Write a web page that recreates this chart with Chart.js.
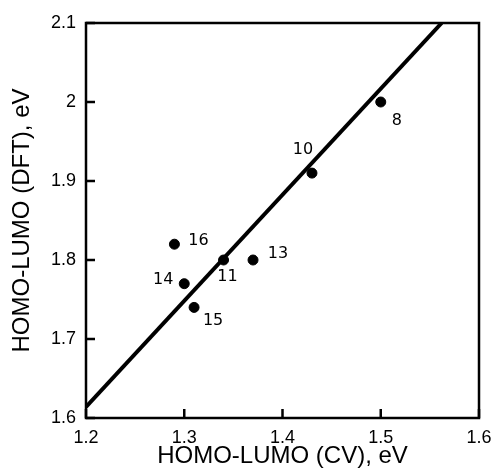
<!DOCTYPE html>
<html>
<head>
<meta charset="utf-8">
<script src="https://cdn.jsdelivr.net/npm/chart.js@4/dist/chart.umd.min.js"></script>
<style>
    html, body { margin:0; padding:0; background:#fff; }
    #wrap { width:493px; height:475px; }
</style>
</head>
<body>
<div id="wrap"><canvas id="chart" width="493" height="475"></canvas></div>
<script>

/*
=================================
DATA
=================================
*/

const compoundLabels = ["8", "10", "16", "11", "13", "14", "15"];
const cvGap  = [1.50, 1.43, 1.29, 1.34, 1.37, 1.30, 1.31];
const dftGap = [2.00, 1.91, 1.82, 1.80, 1.80, 1.77, 1.74];

const fitX = [1.2, 1.562];
const fitY = [1.614, 2.1];

const xTicks = [1.2, 1.3, 1.4, 1.5, 1.6];
const yTicks = [1.6, 1.7, 1.8, 1.9, 2.0, 2.1];

// label offsets (pixels) around each point
const labelOffsets = [
    [16, 19], [-9, -23], [24, -3], [4, 17], [25, -6], [-21, -4], [19, 13]
];

/*
=================================
FRAME + INWARD TICKS + LABELS
=================================
*/

const framePlugin = {
    id: "frame",
    afterDraw(chart){

        const ctx = chart.ctx;
        const area = chart.chartArea;
        const xs = chart.scales.x;
        const ys = chart.scales.y;

        ctx.save();
        ctx.strokeStyle = "#000";
        ctx.lineWidth = 2.5;
        ctx.strokeRect(area.left, area.top, area.right - area.left, area.bottom - area.top);

        ctx.beginPath();
        xTicks.forEach(v => {
            const px = xs.getPixelForValue(v);
            ctx.moveTo(px, area.bottom);
            ctx.lineTo(px, area.bottom - 9);
        });
        yTicks.forEach(v => {
            const py = ys.getPixelForValue(v);
            ctx.moveTo(area.left, py);
            ctx.lineTo(area.left + 9, py);
        });
        ctx.stroke();

        ctx.fillStyle = "#000";
        ctx.font = "16px 'DejaVu Sans'";
        ctx.textAlign = "center";
        ctx.textBaseline = "middle";
        const meta = chart.getDatasetMeta(1);
        meta.data.forEach((pt, i) => {
            ctx.fillText(
                compoundLabels[i],
                pt.x + labelOffsets[i][0],
                pt.y + labelOffsets[i][1]
            );
        });
        ctx.restore();
    }
};

/*
=================================
CHART
=================================
*/

const tickFont = { family: "'Liberation Sans', Arial, sans-serif", size: 18 };
const titleFont = { family: "'Liberation Sans', Arial, sans-serif", size: 24, lineHeight: 1.2 };

new Chart(document.getElementById("chart"), {

    type: "scatter",

    data: {
        datasets: [
            {
                type: "line",
                data: fitX.map((x, i) => ({ x: x, y: fitY[i] })),
                borderColor: "#000",
                borderWidth: 4,
                pointRadius: 0,
                fill: false
            },
            {
                data: cvGap.map((x, i) => ({ x: x, y: dftGap[i] })),
                backgroundColor: "#000",
                borderColor: "#000",
                pointRadius: 5,
                pointHoverRadius: 5
            }
        ]
    },

    options: {
        responsive: false,
        animation: false,
        layout: { padding: { top: 23, right: 14, left: 0, bottom: 0 } },
        plugins: {
            legend: { display: false },
            tooltip: { enabled: false }
        },
        scales: {
            x: {
                type: "linear",
                min: 1.2,
                max: 1.6,
                afterBuildTicks: s => { s.ticks = xTicks.map(v => ({ value: v })); },
                afterFit: s => {
                    s.height = 57;
                    s.paddingLeft = 0;
                    s.paddingRight = 0;
                },
                grid: { display: false, drawTicks: false },
                border: { display: false },
                ticks: {
                    color: "#000",
                    font: tickFont,
                    padding: 9,
                    maxRotation: 0,
                    callback: v => String(Number(v.toFixed(1)))
                },
                title: {
                    display: true,
                    text: "HOMO-LUMO (CV), eV",
                    color: "#000",
                    font: titleFont,
                    padding: { top: 0, bottom: 4 }
                }
            },
            y: {
                type: "linear",
                min: 1.6,
                max: 2.1,
                afterBuildTicks: s => { s.ticks = yTicks.map(v => ({ value: v })); },
                afterFit: s => {
                    s.width = 86;
                    s.paddingTop = 0;
                    s.paddingBottom = 0;
                },
                grid: { display: false, drawTicks: false },
                border: { display: false },
                ticks: {
                    color: "#000",
                    font: tickFont,
                    padding: 10,
                    callback: v => String(Number(v.toFixed(1)))
                },
                title: {
                    display: true,
                    text: "HOMO-LUMO (DFT), eV",
                    color: "#000",
                    font: titleFont,
                    padding: { top: 8, bottom: 0 }
                }
            }
        }
    },

    plugins: [framePlugin]
});

</script>
</body>
</html>
